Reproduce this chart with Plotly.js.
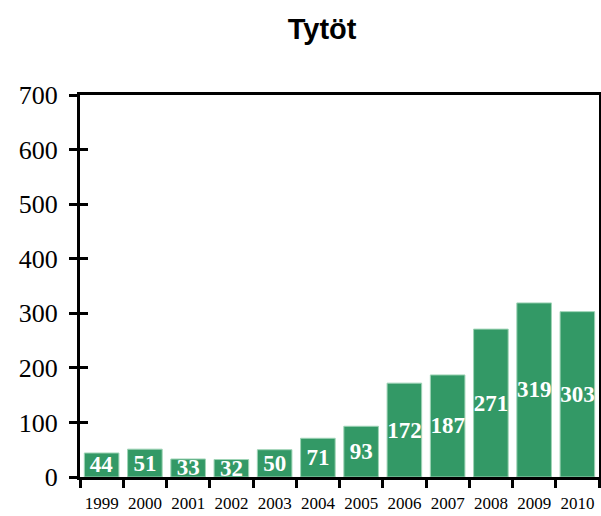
<!DOCTYPE html>
<html>
<head>
<meta charset="utf-8">
<script src="https://cdn.plot.ly/plotly-3.0.1.min.js"></script>
<style>html,body{margin:0;padding:0;background:#fff;}#chart{width:601px;height:516px;}</style>
</head>
<body>
<div id="chart"></div>
<script>
const years = ["1999","2000","2001","2002","2003","2004","2005","2006","2007","2008","2009","2010"];
const values = [44, 51, 33, 32, 50, 71, 93, 172, 187, 271, 319, 303];
const yTicks = [0, 100, 200, 300, 400, 500, 600, 700];
const chartTitle = "Tytöt";

const trace = {
  type: "bar",
  x: years,
  y: values,
  text: values.map(String),
  textposition: "inside",
  insidetextanchor: "middle",
  constraintext: "none",
  textangle: 0,
  textfont: {family: "Liberation Serif, Times New Roman, serif", size: 23, color: "#ffffff", weight: "bold"},
  marker: {color: "#339966", line: {color: "#9fd4b6", width: 1}},
  hoverinfo: "none"
};

const axisFont = {family: "Liberation Serif, Times New Roman, serif", color: "#000"};

const layout = {
  width: 601,
  height: 516,
  margin: {l: 80, r: 2, t: 95, b: 39},
  paper_bgcolor: "#fff",
  plot_bgcolor: "#fff",
  showlegend: false,
  bargap: 0.2,
  title: {
    text: chartTitle,
    font: {family: "Liberation Sans, Arial, sans-serif", size: 29, color: "#000", weight: "bold"},
    x: 0.536, xanchor: "center", xref: "container",
    y: 0.945, yanchor: "middle", yref: "container"
  },
  xaxis: {
    type: "category",
    range: [-0.5, years.length - 0.5],
    showline: true, linecolor: "#000", linewidth: 3, mirror: true,
    ticks: "outside", ticklen: 8, tickwidth: 3, tickcolor: "#000",
    tickson: "boundaries",
    tickangle: 0,
    tickfont: Object.assign({size: 17}, axisFont),
    ticklabelstandoff: 9,
    showgrid: false, zeroline: false,
    fixedrange: true
  },
  yaxis: {
    range: [0, 700],
    tickvals: yTicks,
    ticktext: yTicks.map(String),
    showline: true, linecolor: "#000", linewidth: 3, mirror: true,
    ticks: "outside", ticklen: 8, tickwidth: 3, tickcolor: "#000",
    tickfont: Object.assign({size: 26}, axisFont),
    ticklabelstandoff: 6,
    showgrid: false, zeroline: false,
    fixedrange: true
  },
  yaxis2: {
    range: [0, 700],
    tickvals: yTicks,
    overlaying: "y",
    side: "left",
    ticks: "inside", ticklen: 8, tickwidth: 3, tickcolor: "#000",
    showticklabels: false, showgrid: false, zeroline: false, showline: false,
    fixedrange: true
  }
};

const dummy = {type: "scatter", x: [years[0]], y: [0], yaxis: "y2", mode: "markers", marker: {opacity: 0}, hoverinfo: "none"};

Plotly.newPlot("chart", [trace, dummy], layout, {displayModeBar: false, staticPlot: true});
</script>
</body>
</html>
